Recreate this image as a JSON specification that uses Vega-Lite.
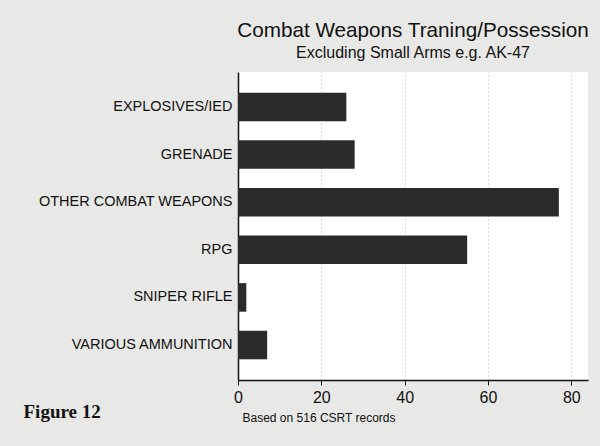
{
  "$schema": "https://vega.github.io/schema/vega-lite/v6.json",
  "width": 350,
  "height": 308,
  "autosize": {"type": "none"},
  "padding": {"left": 238, "top": 72, "right": 12, "bottom": 66},
  "background": "#e8e8e6",
  "title": {
    "text": "Combat Weapons Traning/Possession",
    "subtitle": "Excluding Small Arms e.g. AK-47",
    "anchor": "middle",
    "frame": "group",
    "font": "Liberation Sans",
    "fontSize": 20.7,
    "fontWeight": "normal",
    "color": "#111111",
    "subtitleFont": "Liberation Sans",
    "subtitleFontSize": 16,
    "subtitleColor": "#111111",
    "subtitlePadding": 3,
    "offset": 10
  },
  "data": {
    "values": [
      {"category": "EXPLOSIVES/IED", "count": 26},
      {"category": "GRENADE", "count": 28},
      {"category": "OTHER COMBAT WEAPONS", "count": 77},
      {"category": "RPG", "count": 55},
      {"category": "SNIPER RIFLE", "count": 2},
      {"category": "VARIOUS AMMUNITION", "count": 7}
    ]
  },
  "mark": {"type": "bar", "color": "#2b2b2b"},
  "encoding": {
    "y": {
      "field": "category",
      "type": "nominal",
      "sort": null,
      "scale": {"paddingInner": 0.4, "paddingOuter": 0.435},
      "axis": {
        "title": "Figure 12",
        "titleAngle": 0,
        "titleAlign": "left",
        "titleBaseline": "alphabetic",
        "titleX": -215,
        "titleY": 345,
        "titleFont": "Liberation Serif",
        "titleFontSize": 19,
        "titleFontWeight": "bold",
        "titleColor": "#111111",
        "labelFont": "Liberation Sans",
        "labelFontSize": 14.5,
        "labelColor": "#111111",
        "labelPadding": 6,
        "labelLimit": 300,
        "ticks": false,
        "domainColor": "#111111",
        "domainWidth": 1.5
      }
    },
    "x": {
      "field": "count",
      "type": "quantitative",
      "scale": {"domain": [0, 84], "nice": false},
      "axis": {
        "values": [0, 20, 40, 60, 80],
        "title": "Based on  516 CSRT records",
        "titleFont": "Liberation Sans",
        "titleFontSize": 12,
        "titleFontWeight": "normal",
        "titleColor": "#111111",
        "titleAnchor": "start",
        "titleAlign": "left",
        "titleX": 4,
        "titleY": 41,
        "titleBaseline": "alphabetic",
        "labelFont": "Liberation Sans",
        "labelFontSize": 16,
        "labelColor": "#111111",
        "labelPadding": 4,
        "labelFlush": false,
        "tickColor": "#111111",
        "tickSize": 5,
        "domainColor": "#111111",
        "domainWidth": 1.5,
        "grid": true,
        "gridColor": "#b0b0b0",
        "gridDash": [1, 3]
      }
    }
  },
  "config": {
    "view": {"fill": "white", "stroke": null}
  }
}
